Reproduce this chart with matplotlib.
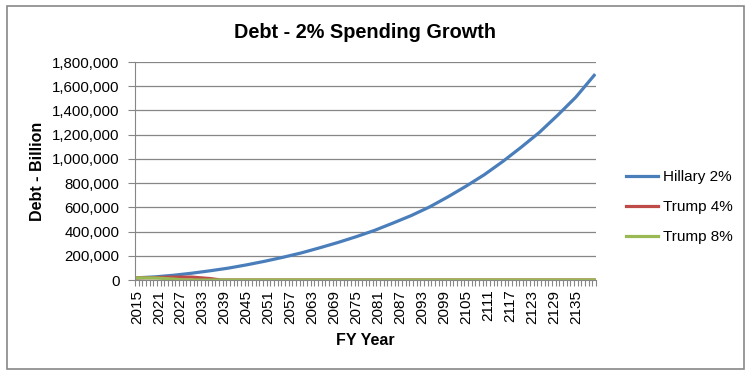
import numpy as np
import matplotlib.pyplot as plt
from matplotlib.ticker import FuncFormatter, FixedLocator
from matplotlib.patches import Rectangle

plt.rcParams['font.family'] = ['Liberation Sans', 'DejaVu Sans']

# valores (bilhoes)
anos_hillary = [2015, 2020, 2025, 2030, 2035, 2040, 2045, 2050, 2055, 2060, 2065, 2070, 2075,
                2080, 2085, 2090, 2095, 2100, 2105, 2110, 2115, 2120, 2125, 2130, 2135, 2140]
hillary = [18000, 26000, 39000, 56000, 76000, 98000, 125000, 155000, 188000, 224000, 266000,
           310000, 358000, 410000, 470000, 532000, 603000, 686000, 775000, 870000, 978000,
           1095000, 1218000, 1360000, 1510000, 1690000]

anos_trump4 = [2015, 2020, 2025, 2030, 2035, 2038, 2140]
trump4 = [18000, 20000, 24000, 24000, 12000, 0, 0]

anos_trump8 = [2015, 2020, 2025, 2028, 2140]
trump8 = [18000, 17000, 8000, 0, 0]

primeiro_ano = 2015
ultimo_ano = 2140

fig = plt.figure(figsize=(7.53, 3.77), dpi=100)
fig.patches.append(Rectangle((7 / 753, 1 - 369 / 377), 737 / 753, 363 / 377, transform=fig.transFigure,
                             fill=False, edgecolor='#888888', linewidth=1.2))
ax = fig.add_axes([135 / 753, 1 - 280 / 377, (596 - 135) / 753, (280 - 62) / 377])

# categorias: posicao = ano - 2015 + 0.5
def pos(anos):
    return np.array(anos) - primeiro_ano + 0.5

ax.plot(pos(anos_hillary), hillary, color='#4a7ebb', lw=2.3, label='Hillary 2%')
ax.plot(pos(anos_trump4), trump4, color='#be4b48', lw=2.3, label='Trump 4%')
ax.plot(pos(anos_trump8), trump8, color='#98b954', lw=2.3, label='Trump 8%')

n = ultimo_ano - primeiro_ano + 1
ax.set_xlim(0, n)
ax.set_ylim(0, 1800000)
ax.set_yticks(np.arange(0, 1800001, 200000))
ax.yaxis.set_major_formatter(FuncFormatter(lambda v, p: f'{int(v):,}'))
ax.grid(axis='y', color='#868686', lw=0.9)
ax.set_axisbelow(True)

rotulos = list(range(primeiro_ano, ultimo_ano + 1, 6))
ax.xaxis.set_major_locator(FixedLocator(pos(rotulos)))
ax.set_xticklabels([str(a) for a in rotulos], rotation=90)
ax.xaxis.set_minor_locator(FixedLocator(np.arange(0, n + 1)))
ax.tick_params(axis='x', which='major', length=0, pad=7, labelsize=11)
ax.tick_params(axis='x', which='minor', length=4, color='#868686', width=0.8)
ax.tick_params(axis='y', length=5, color='#868686', width=0.8, labelsize=10.8, pad=6)

for lado in ['top', 'right']:
    ax.spines[lado].set_visible(False)
for lado in ['left', 'bottom']:
    ax.spines[lado].set_color('#868686')

ax.set_title('Debt - 2% Spending Growth', fontsize=14.3, fontweight='bold', pad=17)
ax.set_xlabel('FY Year', fontsize=11.5, fontweight='bold', labelpad=7)
ax.set_ylabel('Debt - Billion', fontsize=11.5, fontweight='bold', labelpad=5)

ax.legend(loc='center left', bbox_to_anchor=(1.035, 0.335), frameon=False, fontsize=11,
          handlelength=2.1, labelspacing=1.05, handletextpad=0.3)

fig.savefig('out.png', dpi=100)
